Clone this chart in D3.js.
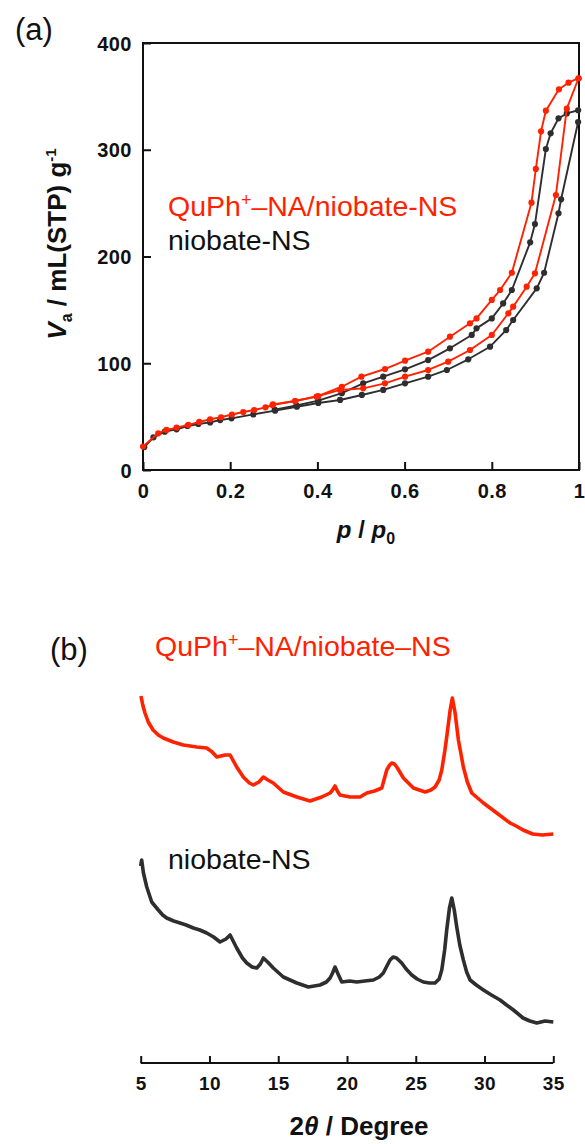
<!DOCTYPE html>
<html>
<head>
<meta charset="utf-8">
<script src="https://cdn.jsdelivr.net/npm/d3@7"></script>
<style>
  html, body { margin: 0; padding: 0; background: #fff; }
  svg { display: block; font-family: "Liberation Sans", Arial, Helvetica, sans-serif; }
</style>
</head>
<body>
<svg id="chart" width="585" height="1144"></svg>
<script>
// ---------- (a) N2 adsorption–desorption isotherms ----------
// relative pressure p/p0 and adsorbed volume (mL(STP) g-1)
const nsAdsP = [0.003, 0.024, 0.05, 0.077, 0.102, 0.127, 0.154, 0.177, 0.203, 0.253, 0.303, 0.353, 0.402, 0.452, 0.502, 0.551, 0.601, 0.654, 0.697, 0.746, 0.796, 0.833, 0.849, 0.903, 0.920, 0.953, 0.959, 0.998];
const nsAdsV = [21.5, 30.6, 35.9, 38.1, 41.2, 43.1, 44.6, 46.8, 48.4, 52.1, 55.6, 59.3, 62.8, 65.6, 70.3, 75.0, 81.2, 87.4, 93.7, 103.7, 115.5, 131.1, 140.5, 170.2, 184.8, 240.5, 253.6, 326];
const nsDesP = [0.998, 0.972, 0.953, 0.935, 0.924, 0.899, 0.888, 0.846, 0.826, 0.800, 0.765, 0.754, 0.704, 0.654, 0.601, 0.551, 0.505, 0.456, 0.402, 0.352, 0.302];
const nsDesV = [337, 334, 329.4, 315.4, 300.7, 230.4, 213.3, 168.6, 156.0, 142.0, 132.7, 126.5, 114.0, 103.0, 94.3, 87.4, 81.2, 72.0, 65.0, 60.5, 56.5];

const quAdsP = [0.0, 0.035, 0.054, 0.077, 0.104, 0.129, 0.154, 0.179, 0.204, 0.230, 0.255, 0.281, 0.297, 0.349, 0.402, 0.452, 0.505, 0.555, 0.601, 0.654, 0.700, 0.750, 0.800, 0.838, 0.849, 0.880, 0.899, 0.947, 0.972, 0.999];
const quAdsV = [22.0, 34.4, 37.5, 39.7, 42.2, 45.0, 47.5, 49.4, 52.0, 54.3, 56.2, 58.7, 60.9, 64.6, 69.3, 75.0, 76.5, 81.2, 87.4, 93.7, 101.5, 112.4, 126.5, 146.8, 153.0, 171.7, 184.2, 257.6, 338.5, 367];
const quDesP = [0.999, 0.976, 0.954, 0.924, 0.913, 0.901, 0.891, 0.846, 0.819, 0.800, 0.765, 0.750, 0.704, 0.654, 0.601, 0.555, 0.501, 0.456, 0.398, 0.349, 0.298];
const quDesV = [367, 362.8, 356.6, 336.6, 317.3, 282.0, 250.4, 184.8, 168.6, 159.3, 142.0, 137.4, 124.9, 110.8, 102.4, 94.6, 87.4, 78.0, 68.7, 64.6, 61.5];

const isoXTicks = [0, 0.2, 0.4, 0.6, 0.8, 1];
const isoYTicks = [0, 100, 200, 300, 400];

// ---------- (b) XRD patterns (intensity, a.u.) ----------
const xrdNsTheta = [5.0, 5.07, 5.2, 5.44, 5.8, 6.28, 6.6, 6.89, 7.4, 7.86, 8.3, 8.83, 9.3, 9.8, 10.3, 10.77, 11.2, 11.5, 11.98, 12.4, 12.71, 13.1, 13.44, 13.7, 13.92, 14.3, 14.64, 15.37, 16.35, 17.19, 18.04, 18.5, 18.77, 18.95, 19.13, 19.35, 19.62, 20.2, 20.71, 21.3, 21.92, 22.35, 22.64, 22.9, 23.13, 23.35, 23.6, 23.98, 24.3, 24.71, 25.1, 25.55, 26.0, 26.4, 26.7, 26.89, 27.1, 27.25, 27.45, 27.62, 27.8, 27.98, 28.2, 28.46, 28.7, 28.95, 29.4, 29.92, 30.5, 31.13, 31.6, 32.1, 32.8, 33.3, 33.8, 34.4, 35.0];
const xrdNsInt   = [174, 180, 167, 153, 138, 130, 125, 122, 119, 117, 115, 112, 110, 107, 103, 98, 101, 105, 92, 82, 77, 73, 72, 76, 82, 77, 72, 63, 57, 53, 55, 58, 62, 67, 73, 66, 58, 59, 58, 59, 60, 63, 67, 74, 80, 83, 82, 77, 71, 65, 61, 58, 57, 57, 61, 70, 90, 110, 132, 142, 130, 113, 95, 80, 68, 60, 55, 50, 45, 40, 35, 30, 22, 19, 17, 19, 18];

const xrdQuOffset = 190;
const xrdQuTheta = [5.02, 5.15, 5.31, 5.55, 5.9, 6.28, 6.64, 7.37, 8.1, 8.6, 9.07, 9.8, 10.2, 10.53, 11.13, 11.5, 11.98, 12.46, 12.9, 13.19, 13.6, 13.92, 14.25, 14.64, 15.37, 16.35, 17.31, 18.16, 18.77, 18.95, 19.13, 19.3, 19.49, 20.22, 20.95, 21.44, 22.0, 22.53, 22.89, 23.1, 23.25, 23.45, 23.62, 24.1, 24.83, 25.68, 26.1, 26.4, 26.7, 26.89, 27.1, 27.25, 27.5, 27.66, 27.86, 28.1, 28.3, 28.46, 28.75, 29.07, 29.92, 30.89, 31.86, 32.3, 32.8, 33.5, 34.2, 35.0];
const xrdQuInt   = [154, 145, 137, 128, 120, 115, 112, 108, 105, 104, 103, 102, 98, 93, 95, 95, 83, 73, 67, 65, 68, 73, 70, 67, 58, 53, 49, 53, 57, 60, 64, 59, 55, 53, 53, 57, 59, 62, 80, 85, 87, 86, 83, 72, 62, 58, 60, 63, 70, 80, 98, 113, 140, 152, 137, 110, 95, 83, 68, 57, 47, 37, 27, 24, 20, 16, 15, 16];

const xrdTicks = [5, 10, 15, 20, 25, 30, 35];

const RED = "#ff2200";
const DARK = "#2e2e2e";

const svg = d3.select("#chart");

// ===== panel (a) =====
const ax = d3.scaleLinear().domain([0, 1]).range([143, 579]);
const ay = d3.scaleLinear().domain([0, 400]).range([470, 43]);

const gA = svg.append("g");

// frame
gA.append("rect")
  .attr("x", ax(0)).attr("y", ay(400))
  .attr("width", ax(1) - ax(0)).attr("height", ay(0) - ay(400))
  .attr("fill", "none").attr("stroke", "#111").attr("stroke-width", 2);

// inward ticks
const axisLeft = d3.axisLeft(ay).tickValues(isoYTicks).tickSize(-8).tickPadding(18).tickFormat(d3.format("d"));
const axisBottom = d3.axisBottom(ax).tickValues(isoXTicks).tickSize(-8).tickPadding(18)
  .tickFormat(d => d === 0 ? "0" : d === 1 ? "1" : d3.format(".1f")(d));

const gyA = gA.append("g").attr("transform", `translate(${ax(0)},0)`).call(axisLeft);
const gxA = gA.append("g").attr("transform", `translate(0,${ay(0)})`).call(axisBottom);
[gyA, gxA].forEach(g => {
  g.select(".domain").remove();
  g.selectAll(".tick line").attr("stroke", "#111").attr("stroke-width", 2);
  g.selectAll(".tick text").attr("fill", "#111").attr("font-size", 20).attr("font-weight", "bold")
    .attr("font-family", "Liberation Sans, Arial, sans-serif").attr("letter-spacing", "0.5px");
});
gyA.selectAll(".tick text").attr("dx", 0).attr("dy", "0.36em").attr("x", -11);
gxA.selectAll(".tick text").attr("y", 14).attr("dy", "0.72em");

const isoLine = d3.line().x(d => ax(d[0])).y(d => ay(d[1]));

function drawIso(P, V, color) {
  const pts = P.map((p, i) => [p, V[i]]);
  gA.append("path").attr("d", isoLine(pts)).attr("fill", "none")
    .attr("stroke", color).attr("stroke-width", 1.9).attr("stroke-linejoin", "round");
  gA.append("g").selectAll("circle").data(pts).join("circle")
    .attr("cx", d => ax(d[0])).attr("cy", d => ay(d[1])).attr("r", 3.1).attr("fill", color);
}
drawIso(nsAdsP, nsAdsV, DARK);
drawIso(nsDesP, nsDesV, DARK);
drawIso(quAdsP, quAdsV, RED);
drawIso(quDesP, quDesV, RED);

// panel label and legend
svg.append("text").attr("x", 15).attr("y", 40).attr("font-size", 31).attr("fill", "#111").text("(a)");

const legA = svg.append("text").attr("x", 168).attr("y", 216).attr("font-size", 28.5).attr("fill", RED);
legA.append("tspan").text("QuPh");
legA.append("tspan").attr("font-size", 18).attr("dy", -10).text("+");
legA.append("tspan").attr("dy", 10).text("–NA/niobate-NS");
svg.append("text").attr("x", 168).attr("y", 250).attr("font-size", 28.5).attr("fill", "#111").text("niobate-NS");

// axis titles
const yTitle = svg.append("text").attr("transform", "translate(66,244) rotate(-90)")
  .attr("text-anchor", "middle").attr("font-size", 26).attr("font-weight", "bold").attr("fill", "#111");
yTitle.append("tspan").attr("font-style", "italic").text("V");
yTitle.append("tspan").attr("font-size", 16).attr("dy", 6).text("a");
yTitle.append("tspan").attr("dy", -6).text(" / mL(STP) g");
yTitle.append("tspan").attr("font-size", 15).attr("dy", -10).text("-1");

const xTitleA = svg.append("text").attr("x", 366).attr("y", 538).attr("text-anchor", "middle")
  .attr("font-size", 24).attr("font-weight", "bold").attr("font-style", "italic").attr("fill", "#111");
xTitleA.append("tspan").text("p");
xTitleA.append("tspan").attr("font-style", "normal").text(" / ");
xTitleA.append("tspan").text("p");
xTitleA.append("tspan").attr("font-style", "normal").attr("font-size", 16).attr("dy", 6).text("0");

// ===== panel (b) =====
const bx = d3.scaleLinear().domain([5, 35]).range([140.7, 553.3]);
const by = d3.scaleLinear().domain([0, 350]).range([1040, 690]);

const gB = svg.append("g");
const axisB = d3.axisBottom(bx).tickValues(xrdTicks).tickSize(-7).tickPadding(12).tickFormat(d3.format("d"));
const gxB = gB.append("g").attr("transform", "translate(0,1063)").call(axisB);
gxB.select(".domain").attr("stroke", "#111").attr("stroke-width", 2).attr("d", `M${bx(5)},0H${bx(35)}`);
gxB.selectAll(".tick line").attr("stroke", "#111").attr("stroke-width", 2);
gxB.selectAll(".tick text").attr("fill", "#111").attr("font-size", 19).attr("font-weight", "bold")
  .attr("font-family", "Liberation Sans, Arial, sans-serif").attr("letter-spacing", "0.5px")
  .attr("y", 13).attr("dy", "0.72em");

const xrdLine = d3.line().x(d => bx(d[0])).y(d => by(d[1]));
gB.append("path")
  .attr("d", xrdLine(xrdNsTheta.map((t, i) => [t, xrdNsInt[i]])))
  .attr("fill", "none").attr("stroke", DARK).attr("stroke-width", 3.6).attr("stroke-linejoin", "round");
gB.append("path")
  .attr("d", xrdLine(xrdQuTheta.map((t, i) => [t, xrdQuInt[i] + xrdQuOffset])))
  .attr("fill", "none").attr("stroke", RED).attr("stroke-width", 3.6).attr("stroke-linejoin", "round");

svg.append("text").attr("x", 50).attr("y", 660).attr("font-size", 31).attr("fill", "#111").text("(b)");

const legB = svg.append("text").attr("x", 155).attr("y", 656).attr("font-size", 28.5).attr("fill", RED);
legB.append("tspan").text("QuPh");
legB.append("tspan").attr("font-size", 18).attr("dy", -10).text("+");
legB.append("tspan").attr("dy", 10).text("–NA/niobate–NS");
svg.append("text").attr("x", 168).attr("y", 869).attr("font-size", 28.5).attr("fill", "#111").text("niobate-NS");

const xTitleB = svg.append("text").attr("x", 359).attr("y", 1135).attr("text-anchor", "middle")
  .attr("font-size", 26).attr("font-weight", "bold").attr("fill", "#111");
xTitleB.append("tspan").text("2");
xTitleB.append("tspan").attr("font-style", "italic").text("θ");
xTitleB.append("tspan").text(" / Degree");
</script>
</body>
</html>
